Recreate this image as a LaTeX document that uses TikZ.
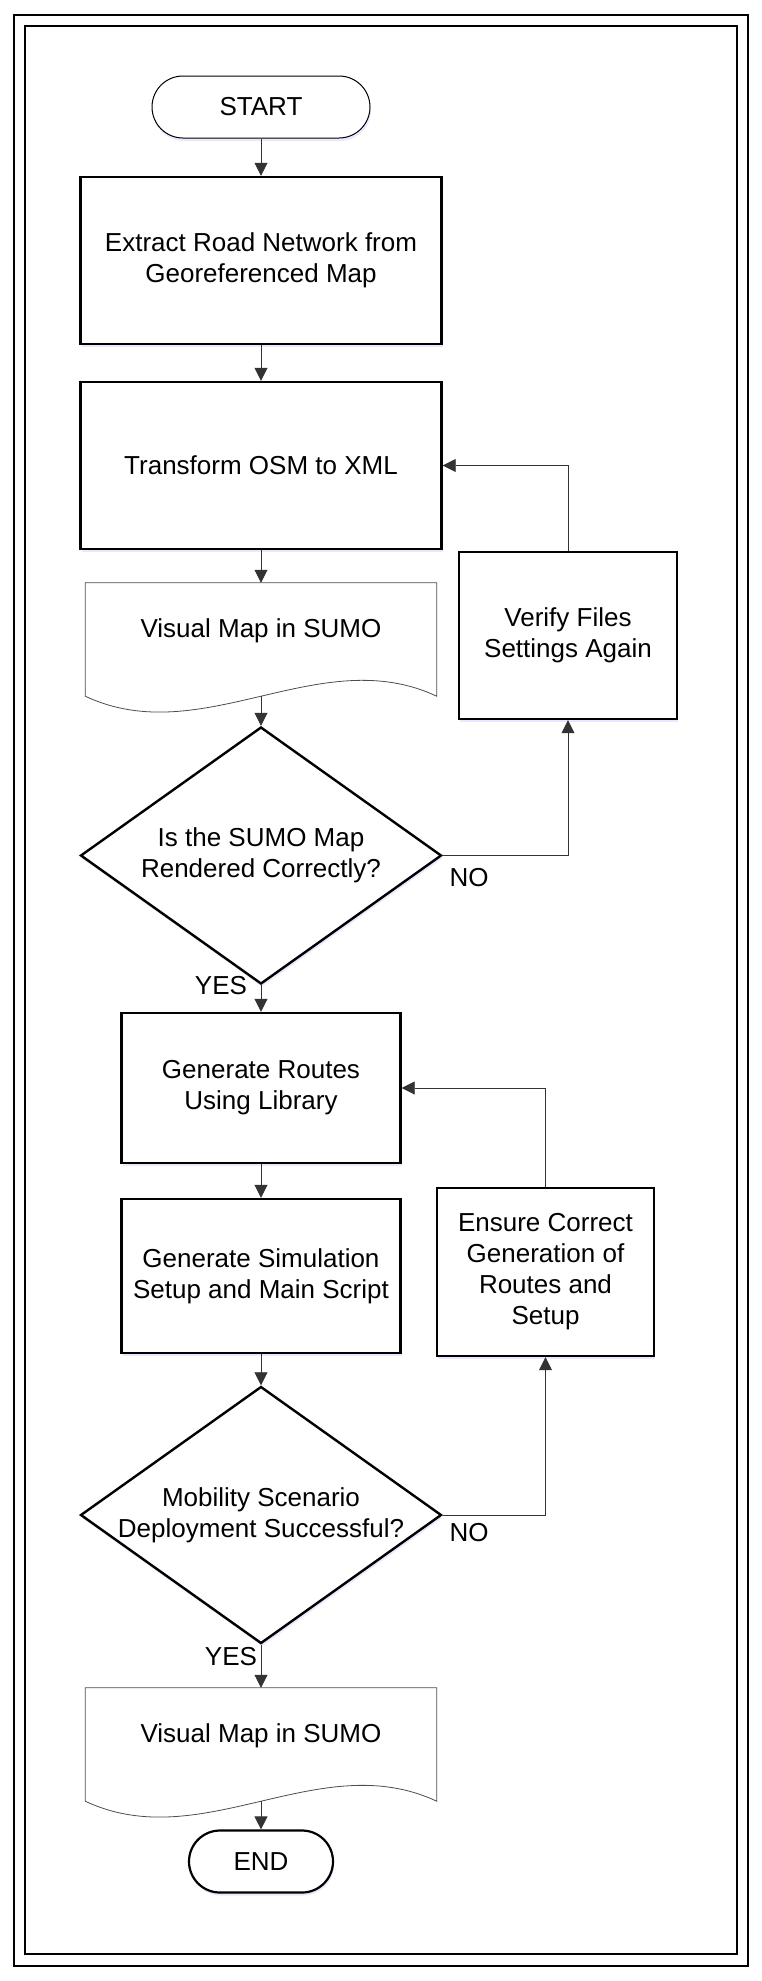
\documentclass[tikz,border=0pt]{standalone}
\usepackage{fontspec}
\setmainfont{Liberation Sans}
\usetikzlibrary{shapes.geometric,arrows.meta,shadows}

\begin{document}
\begin{tikzpicture}[x=1pt,y=-1pt,>={Triangle[length=13pt,width=13pt]},
	font=\fontsize{26}{31}\selectfont,
	glow/.style={drop shadow={shadow xshift=1pt,shadow yshift=-3pt,opacity=.3,fill=blue!30}},
	proc/.style={draw,line width=2.4pt,fill=white,align=center,inner sep=2pt,glow},
	term/.style={draw,rounded corners=31pt,fill=white,minimum height=62pt,glow},
	decision/.style={diamond,draw,line width=2.4pt,fill=white,minimum width=361pt,minimum height=257pt,inner sep=0pt,glow},
	docnode/.style={minimum width=351pt,minimum height=113pt,inner sep=0pt},
	docline/.style={draw=black!70,line width=0.8pt},
	link/.style={->,draw=black!80,line width=0.8pt}]
	\useasboundingbox (0,0) rectangle (761,1981);
	\def\w{117} \def\h{55}
	% frame
	\draw[line width=2pt] (14,15) rectangle (748,1966);
	\draw[line width=1.4pt] (25,26) rectangle (737,1954);

	\node[term,line width=1pt,minimum width=218pt] (start) at (261,107) {START};
	\node[proc,minimum width=361pt,minimum height=167pt] (extract) at (261,260.5) {Extract Road Network from\\Georeferenced Map};
	\node[proc,minimum width=361pt,minimum height=167pt] (osm) at (261,465.5) {Transform OSM to XML};
	\node[docnode,label={[yshift=8.5pt]center:Visual Map in SUMO}] (map1) at (261,639.5) {};
	\node[proc,minimum width=218pt,minimum height=167pt] (verify) at (568,635.5) {Verify Files\\Settings Again};
	\node[decision,label={[align=center]center:Is the SUMO Map\\Rendered Correctly?}] (check1) at (261,855.5) {};

	\node[proc,minimum width=279pt,minimum height=150pt] (routes) at (261,1088) {Generate Routes\\Using Library};
	\node[proc,minimum width=279pt,minimum height=154pt] (setup) at (261,1276) {Generate Simulation\\Setup and Main Script};
	\node[proc,minimum width=217pt,minimum height=168pt] (ensure) at (545.5,1272) {Ensure Correct\\Generation of\\Routes and\\Setup};
	\node[decision,label={[align=center]center:Mobility Scenario\\Deployment Successful?}] (check2) at (261,1515) {};
	\node[docnode,label={[yshift=8.5pt]center:Visual Map in SUMO}] (map2) at (261,1744.5) {};
	\node[term,line width=2.2pt,minimum width=144pt] (stop) at (261,1861.5) {END};

	% wavy documents
	\foreach \d in {map1,map2}
	\draw[docline] (\d.south east) .. controls +(-\w,-\h) and +(\w,\h) .. (\d.south west)
		-- (\d.north west) -- (\d.north east) -- cycle;

	\foreach \a/\b in {start/extract,extract/osm,osm/map1,map1/check1,check1/routes,routes/setup,setup/check2,check2/map2,map2/stop}
	\draw[link] (\a.south) -- (\b.north);

	\draw[link] (check1.east) -| (verify.south);
	\draw[link] (verify.north) |- (osm.east);
	\draw[link] (check2.east) -| (ensure.south);
	\draw[link] (ensure.north) |- (routes.east);

	\node (no1) at (469,878) {NO};
	\node (yes1) at (221,986) {YES};
	\node (no2) at (469,1533) {NO};
	\node (yes2) at (231,1657) {YES};
\end{tikzpicture}
\end{document}
